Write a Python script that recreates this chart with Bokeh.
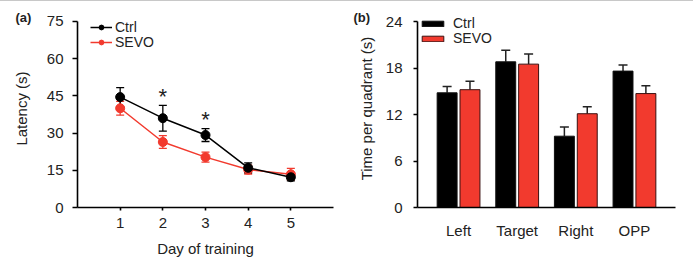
from bokeh.plotting import figure
from bokeh.layouts import row
from bokeh.models import (ColumnDataSource, Whisker, TeeHead, Legend, LegendItem,
                          FixedTicker, Title)
from bokeh.embed import file_html
from bokeh.resources import INLINE

# ---------- data ----------
days = [1, 2, 3, 4, 5]
ctrl_latency = [44.5, 36.0, 29.2, 16.0, 12.2]
ctrl_latency_err = [3.8, 5.2, 2.6, 2.0, 1.5]
sevo_latency = [40.0, 26.4, 20.3, 15.3, 13.4]
sevo_latency_err = [2.8, 2.6, 2.0, 1.8, 2.4]
sig_days = [2, 3]

quadrants = ["Left", "Target", "Right", "OPP"]
ctrl_time = [14.8, 18.8, 9.2, 17.6]
ctrl_time_err = [0.8, 1.5, 1.2, 0.8]
sevo_time = [15.2, 18.5, 12.1, 14.7]
sevo_time_err = [1.1, 1.3, 0.9, 1.0]

y_ticks_a = [0, 15, 30, 45, 60, 75]
y_ticks_b = [0, 6, 12, 18, 24]

RED = "#f23a2e"
FONT = "Liberation Sans"


def style(p):
    p.outline_line_color = None
    p.xgrid.grid_line_color = None
    p.ygrid.grid_line_color = None
    for ax in (p.xaxis[0], p.yaxis[0]):
        ax.axis_line_width = 1.6
        ax.axis_line_color = "black"
        ax.major_tick_line_width = 1.6
        ax.major_tick_in = 0
        ax.minor_tick_line_color = None
        ax.major_label_text_font = FONT
        ax.major_label_text_font_size = "15px"
        ax.major_label_text_color = "#222222"
        ax.axis_label_text_font = FONT
        ax.axis_label_text_font_size = "15px"
        ax.axis_label_text_font_style = "normal"
        ax.axis_label_text_color = "#222222"


def one_legend(label, renderers, loc, **kw):
    return Legend(items=[LegendItem(label=label, renderers=renderers)],
                  location=loc, padding=0, margin=0, spacing=0,
                  label_text_font=FONT, label_text_font_size="14px",
                  label_text_color="#222222",
                  background_fill_alpha=0, border_line_color=None, **kw)


def panel_title(text, offset, standoff):
    return Title(text=text, align="left", offset=offset, standoff=standoff,
                 vertical_align="bottom", text_font=FONT, text_font_size="13px",
                 text_font_style="bold", text_color="#222222")


# ---------- panel (a) ----------
top_a, bot_a, H = 8, 63, 270
ya_end = y_ticks_a[-1] * (H - top_a - bot_a) / (H - 20 - bot_a)
pa = figure(width=340, height=H, x_range=(0, 6), y_range=(0, ya_end),
            output_backend="svg", toolbar_location=None,
            min_border_left=77, min_border_right=7, min_border_top=top_a,
            min_border_bottom=bot_a)
style(pa)
pa.yaxis.bounds = (y_ticks_a[0], y_ticks_a[-1])
pa.yaxis.ticker = FixedTicker(ticks=y_ticks_a)
pa.xaxis.ticker = FixedTicker(ticks=days)
pa.yaxis.major_tick_out = 5
pa.xaxis.major_tick_out = 3
pa.yaxis.major_label_standoff = 9
pa.xaxis.major_label_standoff = 7
pa.yaxis.axis_label = "Latency (s)"
pa.xaxis.axis_label = "Day of training"
pa.yaxis.axis_label_standoff = 14
pa.xaxis.axis_label_standoff = 9

src_a = ColumnDataSource(dict(
    x=days,
    c=ctrl_latency, cu=[v + e for v, e in zip(ctrl_latency, ctrl_latency_err)],
    cl=[v - e for v, e in zip(ctrl_latency, ctrl_latency_err)],
    s=sevo_latency, su=[v + e for v, e in zip(sevo_latency, sevo_latency_err)],
    sl=[v - e for v, e in zip(sevo_latency, sevo_latency_err)],
))

for col, color in (("s", RED), ("c", "black")):
    w = Whisker(source=src_a, base="x", upper=col + "u", lower=col + "l",
                line_color=color, line_width=1.3, level="underlay",
                upper_head=TeeHead(size=8, line_color=color, line_width=1.3),
                lower_head=TeeHead(size=8, line_color=color, line_width=1.3))
    pa.add_layout(w)

ls = pa.line("x", "s", source=src_a, line_color=RED, line_width=1.5)
ss = pa.scatter("x", "s", source=src_a, size=9, fill_color=RED, line_color=RED)
lc = pa.line("x", "c", source=src_a, line_color="black", line_width=1.5)
sc = pa.scatter("x", "c", source=src_a, size=9, fill_color="black", line_color="black")

sig_top = [ctrl_latency[days.index(d)] + ctrl_latency_err[days.index(d)] for d in sig_days]
pa.text(x=sig_days, y=sig_top, text=["*"] * len(sig_days), text_align="center",
        text_baseline="middle", y_offset=-9, text_font_size="22px",
        text_color="#222222", text_font={"value": FONT})

lg_kw_a = dict(glyph_width=22, glyph_height=12, label_height=12, label_standoff=3)
pa.add_layout(one_legend("Ctrl", [lc, sc], (13, 172), **lg_kw_a))
pa.add_layout(one_legend("SEVO", [ls, ss], (13, 157), **lg_kw_a))
pa.add_layout(panel_title("(a)", -62, -31), "above")

# ---------- panel (b) ----------
pos = list(range(1, len(quadrants) + 1))
off = 0.195
bw = 0.34
top_b, bot_b = 8, 64
yb_end = y_ticks_b[-1] * (H - top_b - bot_b) / (H - 20 - bot_b)
pb = figure(width=353, height=H, x_range=(0.3, 4.7), y_range=(0, yb_end),
            output_backend="svg", toolbar_location=None,
            min_border_left=77, min_border_right=18, min_border_top=top_b,
            min_border_bottom=bot_b)
style(pb)
pb.yaxis.bounds = (y_ticks_b[0], y_ticks_b[-1])
pb.yaxis.ticker = FixedTicker(ticks=y_ticks_b)
pb.xaxis.ticker = FixedTicker(ticks=pos)
pb.xaxis.major_label_overrides = {p: q for p, q in zip(pos, quadrants)}
pb.xaxis.major_tick_out = 0
pb.xaxis.major_tick_line_color = None
pb.yaxis.major_tick_out = 4
pb.yaxis.major_label_standoff = 11
pb.xaxis.major_label_standoff = 14
pb.yaxis.axis_label = "Time per quadrant (s)"
pb.yaxis.axis_label_standoff = 8

src_b = ColumnDataSource(dict(
    xc=[p - off for p in pos], xs=[p + off for p in pos],
    c=ctrl_time, cu=[v + e for v, e in zip(ctrl_time, ctrl_time_err)],
    s=sevo_time, su=[v + e for v, e in zip(sevo_time, sevo_time_err)],
))
for xcol, col in (("xc", "c"), ("xs", "s")):
    pb.add_layout(Whisker(source=src_b, base=xcol, upper=col + "u", lower=col,
                          line_color="#222222", line_width=1.5, level="underlay",
                          upper_head=TeeHead(size=9, line_color="#222222", line_width=1.5),
                          lower_head=None))
bc = pb.vbar(x="xc", top="c", width=bw, source=src_b, fill_color="black",
             line_color="#111111", line_width=1)
bs = pb.vbar(x="xs", top="s", width=bw, source=src_b, fill_color=RED,
             line_color="#3a1010", line_width=1)

lg_kw_b = dict(glyph_width=27, glyph_height=7, label_height=12, label_standoff=7)
pb.add_layout(one_legend("Ctrl", [bc], (2, 176), **lg_kw_b))
pb.add_layout(one_legend("SEVO", [bs], (2, 161), **lg_kw_b))
pb.add_layout(panel_title("(b)", -64, -31), "above")

layout = row(pa, pb, spacing=0,
             styles={"border-top": "1px solid #c8c8c8", "border-right": "2px solid #8a8a8a"})
open("out.html", "w").write(file_html(layout, INLINE))
